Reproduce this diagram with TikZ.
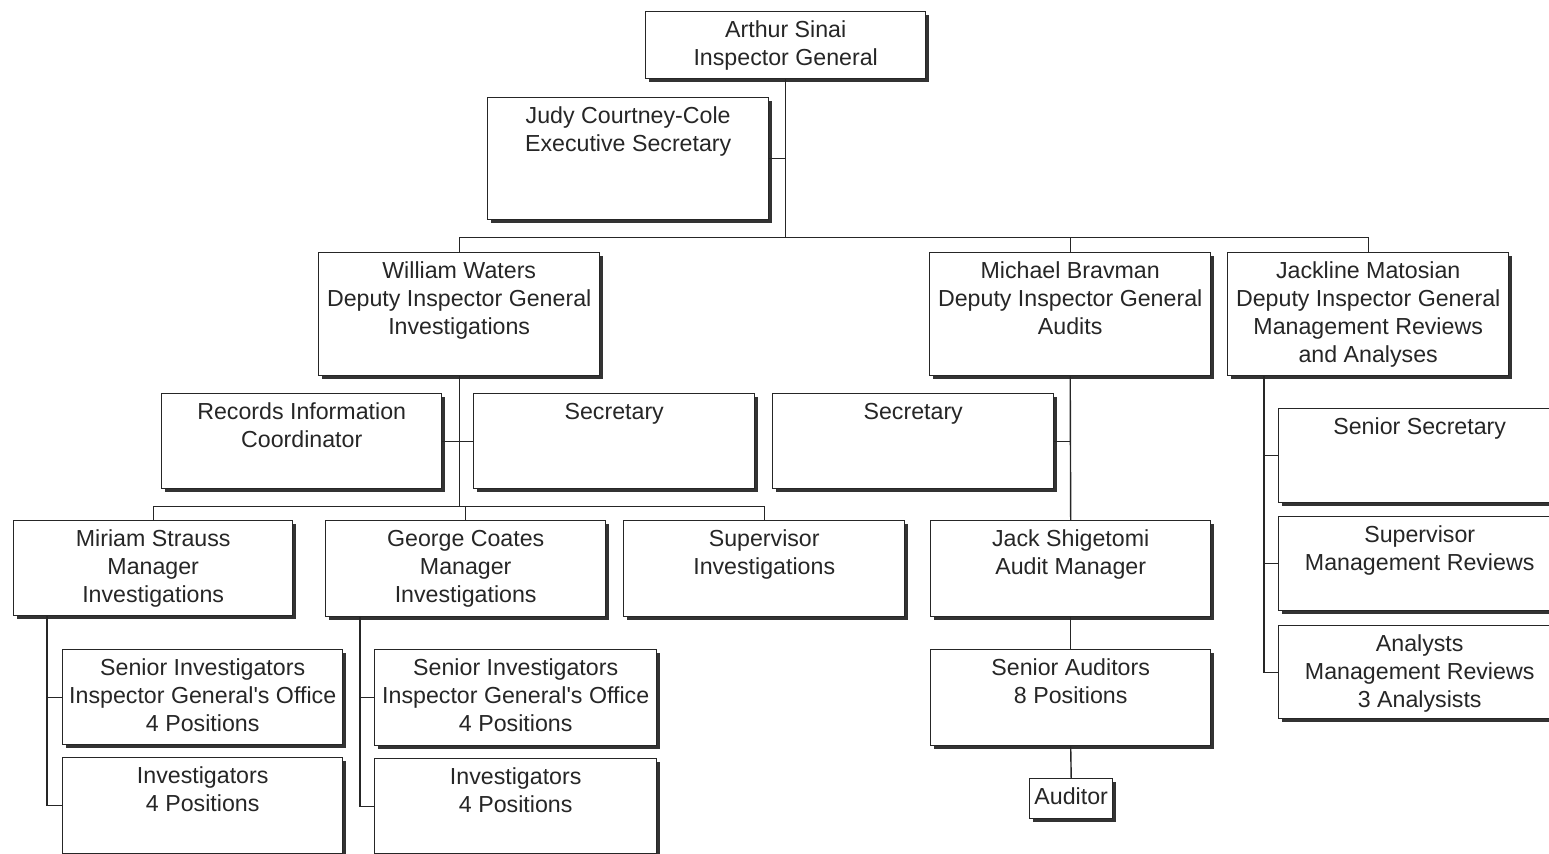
\documentclass[tikz,border=0pt]{standalone}
\usepackage{fontspec}
\setmainfont{Liberation Sans}
\usetikzlibrary{shadows}
\newlength\px
\setlength\px{0.02cm}
\newcommand\unittext[3]{\parbox[t][#2\px][t]{#1\px}{\centering\vspace*{6\px}\strut #3}}
\tikzset{
  unit/.style={draw=black!85, line width=0.8pt, fill=white, inner sep=0pt, anchor=north west,
    text=black!85, drop shadow={shadow xshift=0.06cm, shadow yshift=-0.06cm, fill=black!80, opacity=1}},
  link/.style={draw=black!85, line width=0.8pt}
}
\begin{document}
\begin{tikzpicture}[x=0.02cm, y=-0.02cm, font=\fontsize{13.2pt}{16pt}\selectfont]
        \clip (0,0) rectangle (1549,853);

        \node[unit] (ig)       at ( 645,  11) {\unittext{280}{67}{Arthur Sinai\\Inspector General}};
        \node[unit] (exec)     at ( 487,  97) {\unittext{281}{122}{Judy Courtney-Cole\\Executive Secretary}};
        \node[unit] (waters)   at ( 318, 252) {\unittext{281}{123}{William Waters\\Deputy Inspector General\\Investigations}};
        \node[unit] (bravman)  at ( 929, 252) {\unittext{281}{123}{Michael Bravman\\Deputy Inspector General\\Audits}};
        \node[unit] (matosian) at (1227, 252) {\unittext{281}{123}{Jackline Matosian\\Deputy Inspector General\\Management Reviews\\and Analyses}};
        \node[unit] (records)  at ( 161, 393) {\unittext{280}{95}{Records Information\\Coordinator}};
        \node[unit] (secL)     at ( 473, 393) {\unittext{281}{95}{Secretary}};
        \node[unit] (secR)     at ( 772, 393) {\unittext{281}{95}{Secretary}};
        \node[unit] (sensec)   at (1278, 408) {\unittext{282}{94}{Senior Secretary}};
        \node[unit] (supmr)    at (1278, 516) {\unittext{282}{94}{Supervisor\\Management Reviews}};
        \node[unit] (analysts) at (1278, 625) {\unittext{282}{93}{Analysts\\Management Reviews\\3 Analysists}};
        \node[unit] (miriam)   at (  13, 520) {\unittext{279}{95}{Miriam Strauss\\Manager\\Investigations}};
        \node[unit] (george)   at ( 325, 520) {\unittext{280}{96}{George Coates\\Manager\\Investigations}};
        \node[unit] (supinv)   at ( 623, 520) {\unittext{281}{96}{Supervisor\\Investigations}};
        \node[unit] (jack)     at ( 930, 520) {\unittext{280}{96}{Jack Shigetomi\\Audit Manager}};
        \node[unit] (seninvL)  at (  62, 649) {\unittext{280}{95}{Senior Investigators\\Inspector General\textquotesingle s Office\\4 Positions}};
        \node[unit] (invL)     at (  62, 757) {\unittext{280}{96}{Investigators\\4 Positions}};
        \node[unit] (seninvR)  at ( 374, 649) {\unittext{282}{96}{Senior Investigators\\Inspector General\textquotesingle s Office\\4 Positions}};
        \node[unit] (invR)     at ( 374, 758) {\unittext{282}{95}{Investigators\\4 Positions}};
        \node[unit] (senaud)   at ( 930, 649) {\unittext{280}{96}{Senior Auditors\\8 Positions}};
        \node[unit] (auditor)  at (1029, 778) {\unittext{83}{40}{Auditor}};

        \path (ig.south) ++(0,158) coordinate (b1);
        \path (waters.south) ++(0,130) coordinate (b2);
        \path (miriam.south west) ++(34,0) coordinate (m1);
        \path (george.south west) ++(35,0) coordinate (g1);
        \path (matosian.south west) ++(37,0) coordinate (t1);

        \draw[link] (ig.south) -- (b1);
        \draw[link] (exec.east) -- (exec.east -| b1);
        \draw[link] (waters.north) |- (b1) -| (matosian.north);
        \draw[link] (bravman.north) -- (bravman.north |- b1);

        \draw[link] (waters.south) -- (b2);
        \draw[link] (records.east) -- (secL.west);
        \draw[link] (miriam.north) |- (b2) -| (supinv.north);
        \draw[link] (george.north) -- (george.north |- b2);

        \draw[link] (m1) |- (invL.west);
        \draw[link] (m1 |- seninvL.west) -- (seninvL.west);
        \draw[link] (g1) |- (invR.west);
        \draw[link] (g1 |- seninvR.west) -- (seninvR.west);

        \draw[link] (bravman.south) -- (jack.north);
        \draw[link] (secR.east) -- (secR.east -| bravman.south);
        \draw[link] (jack.south) -- (senaud.north);
        \draw[link] (senaud.south) -- (auditor.north);

        \draw[link] (t1) |- (analysts.west);
        \draw[link] (t1 |- sensec.west) -- (sensec.west);
        \draw[link] (t1 |- supmr.west) -- (supmr.west);
      \end{tikzpicture}
\end{document}
